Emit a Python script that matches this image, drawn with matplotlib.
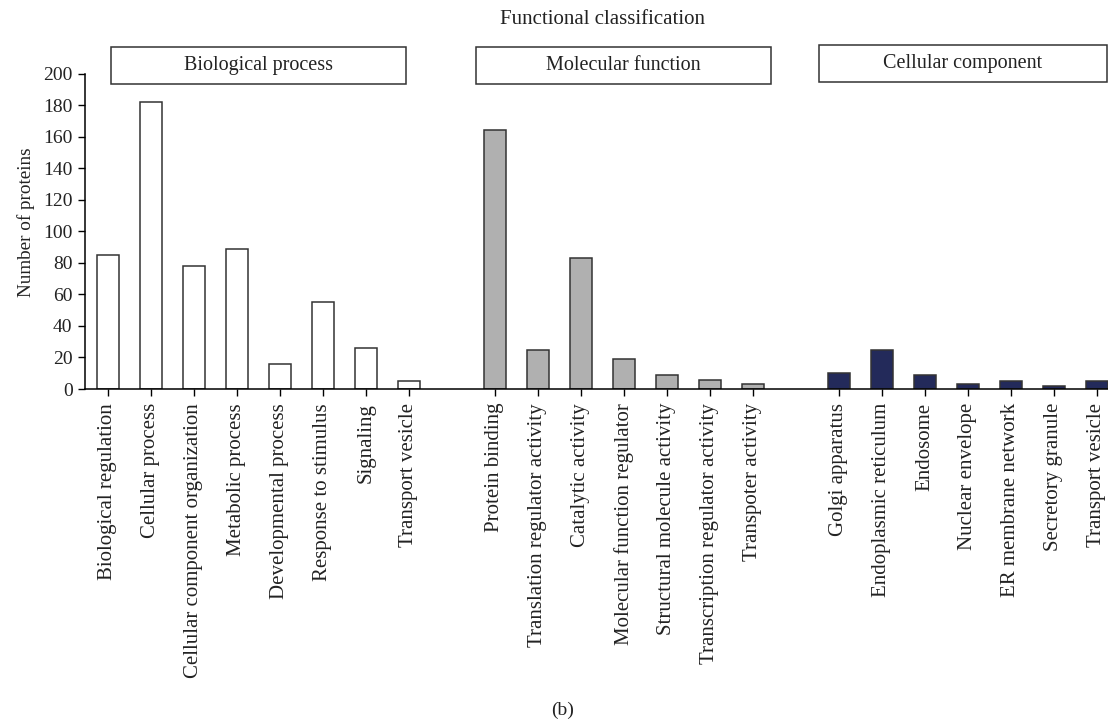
import matplotlib
matplotlib.use("Agg")
import matplotlib.pyplot as plt
from matplotlib.patches import Rectangle

plt.rcParams["font.family"] = ["Liberation Serif", "DejaVu Serif"]

# GO categories and protein counts
bio_terms = ["Biological regulation", "Cellular process", "Cellular component organization",
             "Metabolic process", "Developmental process", "Response to stimulus",
             "Signaling", "Transport vesicle"]
bio_counts = [85, 182, 78, 89, 16, 55, 26, 5]

mol_terms = ["Protein binding", "Translation regulator activity", "Catalytic activity",
             "Molecular function regulator", "Structural molecule activity",
             "Transcription regulator activity", "Transpoter activity"]
mol_counts = [164, 25, 83, 19, 9, 6, 3]

cel_terms = ["Golgi apparatus", "Endoplasmic reticulum", "Endosome", "Nuclear envelope",
             "ER membrane network", "Secretory granule", "Transport vesicle"]
cel_counts = [10, 25, 9, 3, 5, 2, 5]

group_names = ["Biological process", "Molecular function", "Cellular component"]
group_colors = ["white", "#b0b0b0", "#232a5a"]

W, H = 1108, 722
fig = plt.figure(figsize=(W / 100, H / 100), dpi=100)
ax = fig.add_axes([85 / W, 1 - 389 / H, 1 - 85 / W, (389 - 73.7) / H])

labels = []
positions = []
start = 0
for terms, counts, color in zip([bio_terms, mol_terms, cel_terms],
                                [bio_counts, mol_counts, cel_counts], group_colors):
    xs = list(range(start, start + len(terms)))
    ax.bar(xs, counts, width=0.5, color=color, edgecolor="#333333", linewidth=1.1)
    positions += xs
    labels += terms
    start += len(terms) + 1

ax.set_xlim(-0.53, 23.26)
ax.set_ylim(0, 200)
ax.set_yticks(range(0, 201, 20))
ax.set_xticks(positions)
ax.set_xticklabels(labels, rotation=90, fontsize=15, color="#222222")
ax.tick_params(axis="y", labelsize=14, labelcolor="#222222", direction="out",
               length=5, width=1, pad=4)
ax.tick_params(axis="x", direction="out", length=5, width=1, pad=5)
for side in ["top", "right"]:
    ax.spines[side].set_visible(False)
for side in ["left", "bottom"]:
    ax.spines[side].set_linewidth(1.1)

# header texts and boxes (pixel positions)
fig.text(26 / W, 1 - 222 / H, "Number of proteins", rotation=90, ha="center",
         va="center", fontsize=13.8, color="#222222")

boxes = [(111, 406, 47, 84), (476, 771, 47, 84), (819, 1107, 45, 82)]
for name, (x0, x1, y0, y1) in zip(group_names, boxes):
    fig.patches.append(Rectangle((x0 / W, 1 - y1 / H), (x1 - x0) / W, (y1 - y0) / H,
                                 transform=fig.transFigure, facecolor="white",
                                 edgecolor="#333333", linewidth=1.1, zorder=5))
    fig.text((x0 + x1) / 2 / W, 1 - (y0 + y1) / 2 / H, name, ha="center", va="center",
             fontsize=14.5, color="#222222", zorder=6)

fig.text(602 / W, 1 - 20 / H, "Functional classification", ha="center", va="center",
         fontsize=15, color="#222222")
fig.text(563 / W, 1 - 710 / H, "(b)", ha="center", va="center", fontsize=14,
         color="#222222")

fig.savefig("out.png", dpi=100)
